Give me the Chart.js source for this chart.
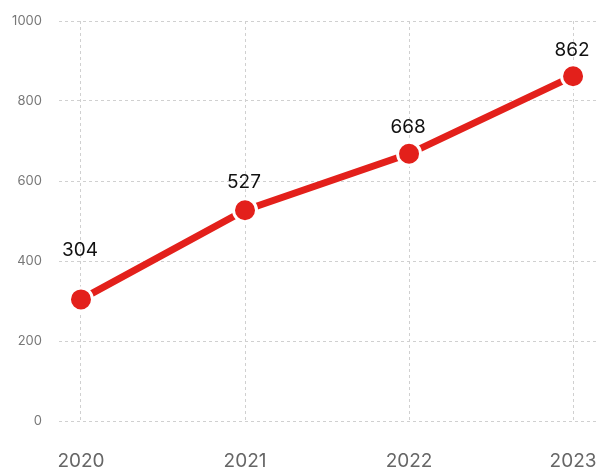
<!DOCTYPE html>
<html lang="en">
<head>
  <meta charset="UTF-8" />
  <title>Yearly values</title>
  <script src="https://cdn.jsdelivr.net/npm/chart.js"></script>
  <style>
    html, body { margin: 0; padding: 0; background: #fff; }
    #wrap { width: 598px; height: 468px; }
  </style>
</head>
<body>
  <div id="wrap"><canvas id="lineChart" width="598" height="468"></canvas></div>

  <script>
    const years = [2020, 2021, 2022, 2023];
    const values = [304, 527, 668, 862];

    const red = '#e3201b';
    const fontFamily = 'Inter, Roboto, sans-serif';

    // draws the value above each point (no datalabels plugin available)
    const valueLabels = {
      id: 'valueLabels',
      afterDatasetsDraw(chart, args, opts) {
        const ctx = chart.ctx;
        const meta = chart.getDatasetMeta(0);
        ctx.save();
        ctx.font = '19px ' + fontFamily;
        ctx.fillStyle = '#111';
        ctx.textAlign = 'center';
        ctx.textBaseline = 'middle';
        meta.data.forEach((pt, i) => {
          const lift = (opts.lifts && opts.lifts[i]) || 27;
          ctx.fillText(String(values[i]), pt.x - 1, pt.y - lift);
        });
        ctx.restore();
      }
    };

    new Chart(document.getElementById('lineChart').getContext('2d'), {
      type: 'line',
      data: {
        datasets: [{
          data: years.map((y, i) => ({ x: y, y: values[i] })),
          borderColor: red,
          borderWidth: 7,
          backgroundColor: red,
          pointRadius: 11.5,
          pointHoverRadius: 11.5,
          pointBorderColor: '#fff',
          pointBorderWidth: 3,
          tension: 0
        }]
      },
      options: {
        responsive: false,
        animation: false,
        layout: { autoPadding: false, padding: { top: 21, right: 0, left: 0, bottom: 0 } },
        plugins: {
          legend: { display: false },
          tooltip: { enabled: false },
          valueLabels: { lifts: [49, 28, 27, 26] }
        },
        scales: {
          x: {
            type: 'linear',
            min: 2019.866,
            max: 2023.152,
            afterBuildTicks(scale) {
              scale.ticks = years.map(v => ({ value: v }));
            },
            afterFit(scale) {
              scale.paddingLeft = 0;
              scale.paddingRight = 0;
              scale.height = 47;
            },
            ticks: {
              color: '#666',
              font: { family: fontFamily, size: 19 },
              padding: 29,
              autoSkip: false,
              maxRotation: 0,
              callback: v => String(v)
            },
            grid: {
              color: '#d0d0d0',
              lineWidth: 1,
              drawTicks: false
            },
            border: { display: false, dash: [3, 3] }
          },
          y: {
            min: 0,
            max: 1000,
            afterFit(scale) {
              scale.paddingTop = 0;
              scale.paddingBottom = 0;
              scale.width = 59;
            },
            ticks: {
              stepSize: 200,
              color: '#777',
              font: { family: fontFamily, size: 13 },
              padding: 17,
              callback: v => String(v)
            },
            grid: {
              color: '#d0d0d0',
              lineWidth: 1,
              drawTicks: false
            },
            border: { display: false, dash: [3, 3] }
          }
        }
      },
      plugins: [valueLabels]
    });
  </script>
</body>
</html>
